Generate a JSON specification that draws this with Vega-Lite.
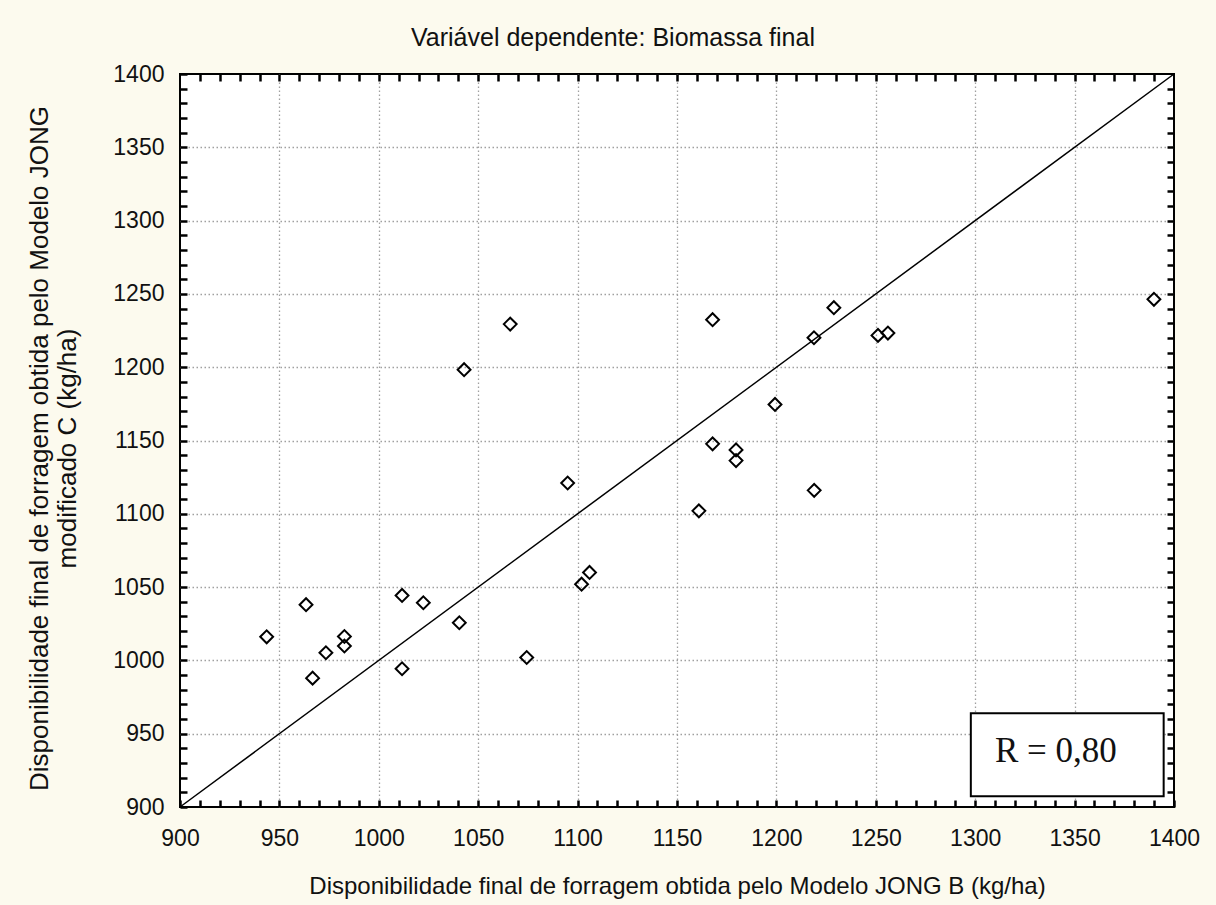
{
  "$schema": "https://vega.github.io/schema/vega-lite/v6.json",
  "width": 994,
  "height": 733,
  "autosize": {"type": "none"},
  "padding": {"left": 180, "top": 74, "right": 42, "bottom": 98},
  "background": "#FCFAEE",
  "title": {
    "text": "Variável dependente: Biomassa final",
    "anchor": "middle",
    "font": "Liberation Sans",
    "fontSize": 25,
    "fontWeight": "normal",
    "color": "#111111",
    "offset": 12,
    "dx": -64
  },
  "config": {
    "view": {"stroke": "#000000", "strokeWidth": 2, "fill": "#FFFFFF"},
    "font": "Liberation Sans"
  },
  "datasets": {
    "pts": [
      {"jongB": 943.6, "jongC": 1016.1},
      {"jongB": 963.4, "jongC": 1038.0},
      {"jongB": 966.7, "jongC": 987.9},
      {"jongB": 973.4, "jongC": 1005.2},
      {"jongB": 982.7, "jongC": 1016.3},
      {"jongB": 982.7, "jongC": 1009.8},
      {"jongB": 1011.7, "jongC": 1044.3},
      {"jongB": 1011.7, "jongC": 994.3},
      {"jongB": 1022.4, "jongC": 1039.3},
      {"jongB": 1040.5, "jongC": 1025.7},
      {"jongB": 1074.4, "jongC": 1002.0},
      {"jongB": 1042.9, "jongC": 1198.3},
      {"jongB": 1066.1, "jongC": 1229.4},
      {"jongB": 1167.9, "jongC": 1232.4},
      {"jongB": 1095.0, "jongC": 1121.0},
      {"jongB": 1102.0, "jongC": 1052.0},
      {"jongB": 1106.0, "jongC": 1060.0},
      {"jongB": 1161.0, "jongC": 1102.0},
      {"jongB": 1228.9, "jongC": 1240.6},
      {"jongB": 1218.9, "jongC": 1220.1},
      {"jongB": 1251.1, "jongC": 1221.7},
      {"jongB": 1256.1, "jongC": 1223.3},
      {"jongB": 1199.3, "jongC": 1174.6},
      {"jongB": 1167.9, "jongC": 1147.7},
      {"jongB": 1179.7, "jongC": 1143.6},
      {"jongB": 1179.7, "jongC": 1136.3},
      {"jongB": 1219.0, "jongC": 1116.0},
      {"jongB": 1389.9, "jongC": 1246.3}
    ],
    "diag": [
      {"jongB": 900, "jongC": 900},
      {"jongB": 1400, "jongC": 1400}
    ],
    "note": [{"label": "R = 0,80"}]
  },
  "layer": [
    {
      "data": {"name": "diag"},
      "mark": {"type": "line", "color": "#000000", "strokeWidth": 1.5},
      "encoding": {
        "x": {
          "field": "jongB", "type": "quantitative",
          "scale": {"domain": [900, 1400], "nice": false, "zero": false},
          "axis": {
            "orient": "bottom",
            "values": [900,910,920,930,940,950,960,970,980,990,1000,1010,1020,1030,1040,1050,1060,1070,1080,1090,1100,1110,1120,1130,1140,1150,1160,1170,1180,1190,1200,1210,1220,1230,1240,1250,1260,1270,1280,1290,1300,1310,1320,1330,1340,1350,1360,1370,1380,1390,1400],
            "labelExpr": "datum.value % 50 === 0 ? datum.label : ''",
            "format": "d",
            "grid": true,
            "gridColor": "#a0a0a0",
            "gridDash": [1.5, 2.5],
            "gridWidth": 1.3,
            "gridOpacity": {"condition": {"test": "datum.value % 50 === 0 && datum.value > 900 && datum.value < 1400", "value": 1}, "value": 0},
            "domain": false,
            "ticks": true,
            "tickSize": -7,
            "tickColor": "#000000",
            "tickWidth": 2.5,
            "labelFont": "Liberation Sans",
            "labelFontSize": 23,
            "labelColor": "#111111",
            "labelPadding": 27,
            "labelOverlap": false,
            "labelBound": false,
            "labelFlush": false,
            "title": "Disponibilidade final de forragem obtida pelo Modelo JONG B (kg/ha)",
            "titleFont": "Liberation Sans",
            "titleFontSize": 24,
            "titleFontWeight": "normal",
            "titleColor": "#111111",
            "titleBaseline": "alphabetic",
            "titleAlign": "center",
            "titleX": 497,
            "titleY": 86
          }
        },
        "y": {
          "field": "jongC", "type": "quantitative",
          "scale": {"domain": [900, 1400], "nice": false, "zero": false},
          "axis": {
            "orient": "left",
            "values": [900,910,920,930,940,950,960,970,980,990,1000,1010,1020,1030,1040,1050,1060,1070,1080,1090,1100,1110,1120,1130,1140,1150,1160,1170,1180,1190,1200,1210,1220,1230,1240,1250,1260,1270,1280,1290,1300,1310,1320,1330,1340,1350,1360,1370,1380,1390,1400],
            "labelExpr": "datum.value % 50 === 0 ? datum.label : ''",
            "format": "d",
            "grid": true,
            "gridColor": "#a0a0a0",
            "gridDash": [1.5, 2.5],
            "gridWidth": 1.3,
            "gridOpacity": {"condition": {"test": "datum.value % 50 === 0 && datum.value > 900 && datum.value < 1400", "value": 1}, "value": 0},
            "domain": false,
            "ticks": true,
            "tickSize": -7,
            "tickColor": "#000000",
            "tickWidth": 2.5,
            "labelFont": "Liberation Sans",
            "labelFontSize": 23,
            "labelColor": "#111111",
            "labelPadding": 23,
            "labelOverlap": false,
            "labelBound": false,
            "labelFlush": false,
            "title": ["Disponibilidade final de forragem obtida pelo Modelo JONG", "modificado C (kg/ha)"],
            "titleFont": "Liberation Sans",
            "titleFontSize": 26,
            "titleFontWeight": "normal",
            "titleColor": "#111111",
            "titleAngle": -90,
            "titleAlign": "center",
            "titleBaseline": "bottom",
            "titleLineHeight": 28,
            "titleX": -128,
            "titleY": 374
          }
        }
      }
    },
    {
      "data": {"name": "pts"},
      "mark": {"type": "point", "shape": "diamond", "filled": false, "stroke": "#000000", "strokeWidth": 2, "size": 165, "opacity": 1},
      "encoding": {
        "x": {
          "field": "jongB", "type": "quantitative",
          "axis": {
            "orient": "top",
            "offset": -7,
            "values": [910,920,930,940,950,960,970,980,990,1000,1010,1020,1030,1040,1050,1060,1070,1080,1090,1100,1110,1120,1130,1140,1150,1160,1170,1180,1190,1200,1210,1220,1230,1240,1250,1260,1270,1280,1290,1300,1310,1320,1330,1340,1350,1360,1370,1380,1390],
            "labels": false,
            "grid": false,
            "domain": false,
            "ticks": true,
            "tickSize": 7,
            "tickColor": "#000000",
            "tickWidth": 2.5,
            "title": null
          }
        },
        "y": {
          "field": "jongC", "type": "quantitative",
          "axis": {
            "orient": "right",
            "offset": -7,
            "values": [910,920,930,940,950,960,970,980,990,1000,1010,1020,1030,1040,1050,1060,1070,1080,1090,1100,1110,1120,1130,1140,1150,1160,1170,1180,1190,1200,1210,1220,1230,1240,1250,1260,1270,1280,1290,1300,1310,1320,1330,1340,1350,1360,1370,1380,1390],
            "labels": false,
            "grid": false,
            "domain": false,
            "ticks": true,
            "tickSize": 7,
            "tickColor": "#000000",
            "tickWidth": 2.5,
            "title": null
          }
        }
      }
    },
    {
      "data": {"name": "note"},
      "mark": {"type": "rect", "fill": "#FFFFFF", "stroke": "#000000", "strokeWidth": 2},
      "encoding": {
        "x": {"datum": 1297.8, "type": "quantitative", "axis": null},
        "x2": {"datum": 1394.8},
        "y": {"datum": 964.0, "type": "quantitative", "axis": null},
        "y2": {"datum": 907.4}
      }
    },
    {
      "data": {"name": "note"},
      "mark": {"type": "text", "font": "Liberation Serif", "fontSize": 35, "color": "#111111", "align": "center", "baseline": "middle"},
      "encoding": {
        "text": {"field": "label", "type": "nominal"},
        "x": {"datum": 1340.6, "type": "quantitative", "axis": null},
        "y": {"datum": 938.0, "type": "quantitative", "axis": null}
      }
    }
  ],
  "resolve": {"axis": {"x": "independent", "y": "independent"}}
}
